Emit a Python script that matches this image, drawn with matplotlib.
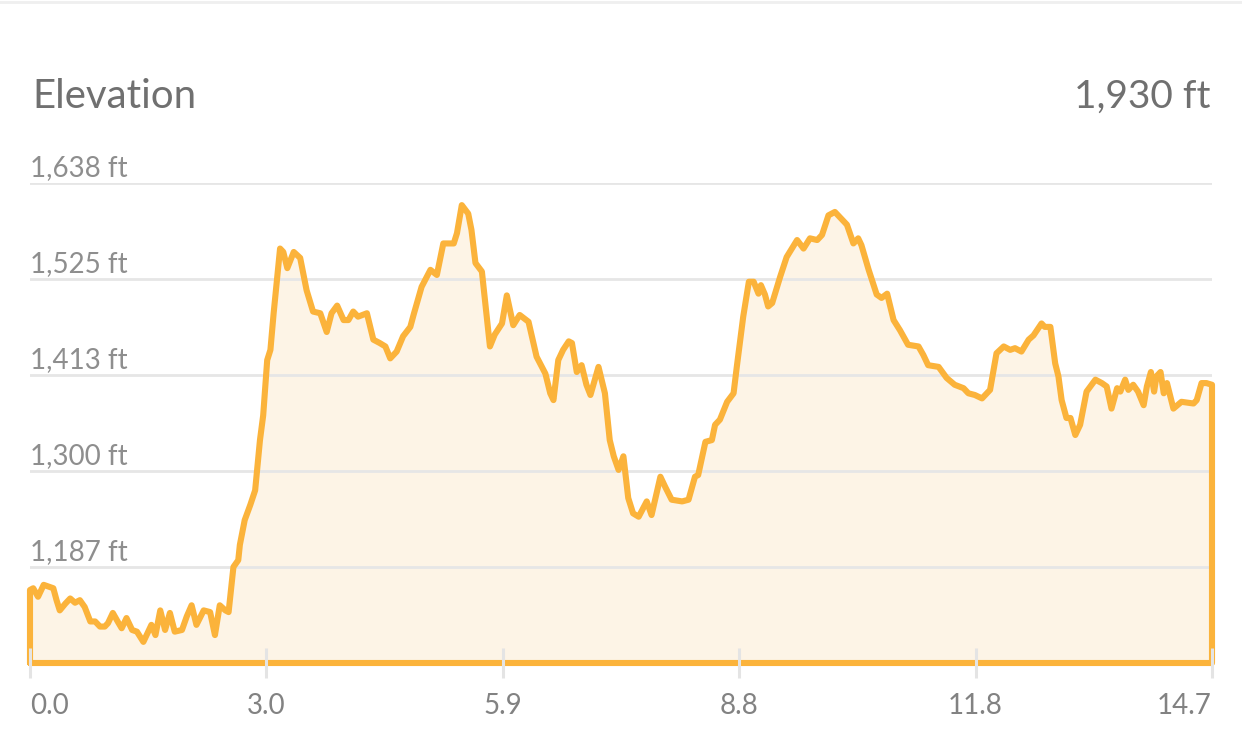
import matplotlib.pyplot as plt
from matplotlib.lines import Line2D

plt.rcParams['font.family'] = ['Lato', 'DejaVu Sans']

# distance (mi) and elevation (ft)
distance = [
    0.00, 0.04, 0.10, 0.17, 0.23, 0.29, 0.33, 0.37, 0.44, 0.50,
    0.56, 0.62, 0.68, 0.75, 0.81, 0.87, 0.93, 0.97, 1.03, 1.09,
    1.14, 1.20, 1.27, 1.33, 1.41, 1.47, 1.51, 1.56, 1.62, 1.68,
    1.74, 1.80, 1.89, 1.95, 2.01, 2.07, 2.16, 2.24, 2.30, 2.36,
    2.43, 2.47, 2.53, 2.59, 2.61, 2.67, 2.74, 2.80, 2.86, 2.90,
    2.95, 2.99, 3.03, 3.11, 3.15, 3.20, 3.28, 3.36, 3.44, 3.52,
    3.61, 3.69, 3.75, 3.82, 3.90, 3.96, 4.02, 4.08, 4.19, 4.27,
    4.35, 4.42, 4.48, 4.56, 4.64, 4.73, 4.77, 4.87, 4.98, 5.06,
    5.14, 5.27, 5.31, 5.37, 5.45, 5.49, 5.54, 5.62, 5.72, 5.78,
    5.87, 5.93, 6.01, 6.09, 6.20, 6.30, 6.41, 6.47, 6.51, 6.57,
    6.63, 6.70, 6.74, 6.80, 6.86, 6.92, 6.97, 7.07, 7.15, 7.21,
    7.26, 7.32, 7.38, 7.44, 7.50, 7.57, 7.67, 7.73, 7.84, 7.90,
    7.98, 8.11, 8.19, 8.27, 8.31, 8.40, 8.48, 8.52, 8.58, 8.67,
    8.75, 8.79, 8.87, 8.94, 9.00, 9.06, 9.09, 9.14, 9.18, 9.23,
    9.33, 9.41, 9.54, 9.62, 9.70, 9.79, 9.85, 9.93, 10.01, 10.12,
    10.16, 10.24, 10.30, 10.34, 10.43, 10.53, 10.59, 10.66, 10.74, 10.82,
    10.92, 11.05, 11.11, 11.17, 11.30, 11.40, 11.50, 11.61, 11.67, 11.75,
    11.84, 11.94, 12.02, 12.11, 12.19, 12.25, 12.33, 12.42, 12.48, 12.58,
    12.62, 12.69, 12.75, 12.79, 12.83, 12.89, 12.94, 13.00, 13.06, 13.14,
    13.25, 13.33, 13.39, 13.45, 13.52, 13.56, 13.62, 13.66, 13.72, 13.78,
    13.85, 13.89, 13.94, 13.98, 14.01, 14.06, 14.10, 14.14, 14.22, 14.32,
    14.47, 14.51, 14.57, 14.63, 14.70,
]
elevation = [
    1160, 1162, 1152, 1166, 1164, 1162, 1148, 1136, 1144, 1150,
    1145, 1148, 1140, 1123, 1123, 1117, 1117, 1121, 1133, 1123,
    1115, 1127, 1113, 1111, 1099, 1111, 1119, 1107, 1136, 1113,
    1133, 1111, 1113, 1129, 1142, 1119, 1136, 1134, 1107, 1142,
    1136, 1134, 1187, 1195, 1213, 1242, 1260, 1277, 1336, 1365,
    1430, 1442, 1485, 1561, 1557, 1538, 1557, 1550, 1512, 1487,
    1485, 1463, 1485, 1494, 1477, 1477, 1487, 1481, 1485, 1454,
    1450, 1446, 1432, 1440, 1458, 1469, 1483, 1516, 1536, 1530,
    1567, 1567, 1579, 1612, 1602, 1583, 1544, 1534, 1446, 1460,
    1473, 1506, 1471, 1483, 1475, 1434, 1414, 1391, 1383, 1430,
    1442, 1452, 1450, 1416, 1424, 1401, 1389, 1422, 1391, 1336,
    1317, 1301, 1317, 1268, 1250, 1246, 1264, 1248, 1293, 1281,
    1266, 1264, 1266, 1293, 1295, 1334, 1336, 1354, 1360, 1381,
    1391, 1422, 1481, 1522, 1522, 1508, 1518, 1507, 1493, 1497,
    1528, 1551, 1571, 1561, 1573, 1571, 1577, 1600, 1604, 1593,
    1589, 1567, 1573, 1565, 1536, 1507, 1503, 1508, 1477, 1465,
    1448, 1446, 1436, 1424, 1422, 1409, 1401, 1397, 1391, 1389,
    1385, 1395, 1438, 1446, 1442, 1444, 1440, 1454, 1459, 1473,
    1469, 1469, 1426, 1411, 1383, 1362, 1362, 1342, 1354, 1393,
    1407, 1403, 1399, 1373, 1397, 1393, 1407, 1395, 1401, 1393,
    1377, 1399, 1416, 1393, 1411, 1416, 1391, 1403, 1373, 1381,
    1379, 1383, 1403, 1403, 1401,
]

grid_values = [1187, 1300, 1413, 1525, 1638]
grid_labels = ['1,187 ft', '1,300 ft', '1,413 ft', '1,525 ft', '1,638 ft']
x_ticks = [0.0, 2.94, 5.88, 8.82, 11.76, 14.7]
x_labels = ['0.0', '3.0', '5.9', '8.8', '11.8', '14.7']
title = 'Elevation'
total = '1,930 ft'

y_floor = 1074.2
line_color = '#FBB33B'
fill_color = '#FDF4E6'

fig = plt.figure(figsize=(12.42, 7.46), dpi=100)
fig.patch.set_facecolor('white')
ax = fig.add_axes([30 / 1242, 83 / 746, 1182 / 1242, 480 / 746])
ax.set_xlim(0, 14.7)
ax.set_ylim(y_floor, 1638)
ax.set_facecolor('none')
for s in ax.spines.values():
    s.set_visible(False)

# faint border at very top
fig.add_artist(Line2D([0, 1], [0.997, 0.997], transform=fig.transFigure,
                      color='#efefef', linewidth=2))

ax.fill_between(distance, elevation, y_floor, color=fill_color, lw=0, zorder=1)

for v in grid_values:
    ax.axhline(v, color='#e6e6e6', linewidth=2, zorder=1.5)

# outline incl. the two vertical edges and the floor
xs = [distance[0]] + distance + [distance[-1], distance[0]]
ys = [y_floor] + elevation + [y_floor, y_floor]
ax.plot(xs, ys, color=line_color, linewidth=4.4, solid_joinstyle='round',
        solid_capstyle='round', clip_on=False, zorder=2)

# y labels sit on top of their gridline
for v, lab in zip(grid_values, grid_labels):
    ax.annotate(lab, xy=(0, v), xycoords=('axes fraction', 'data'),
                xytext=(0, 5), textcoords='offset points',
                ha='left', va='baseline', fontsize=20, color='#8e8e8e')
ax.set_yticks([])

ax.set_xticks(x_ticks)
ax.set_xticklabels(x_labels)
ax.tick_params(axis='x', direction='inout', length=21.5, width=2.2,
               color='#e4e4e4', pad=11, labelsize=20, labelcolor='#828282')
ticklabels = ax.get_xticklabels()
ticklabels[0].set_ha('left')
ticklabels[-1].set_ha('right')
ax.xaxis.set_zorder(2.5)

fig.text(32 / 1242, 1 - 108 / 746, title, fontsize=29, color='#707070',
         ha='left', va='baseline')
fig.text(1211 / 1242, 1 - 108 / 746, total, fontsize=28, color='#707070',
         ha='right', va='baseline')

fig.savefig('out.png', dpi=100)
